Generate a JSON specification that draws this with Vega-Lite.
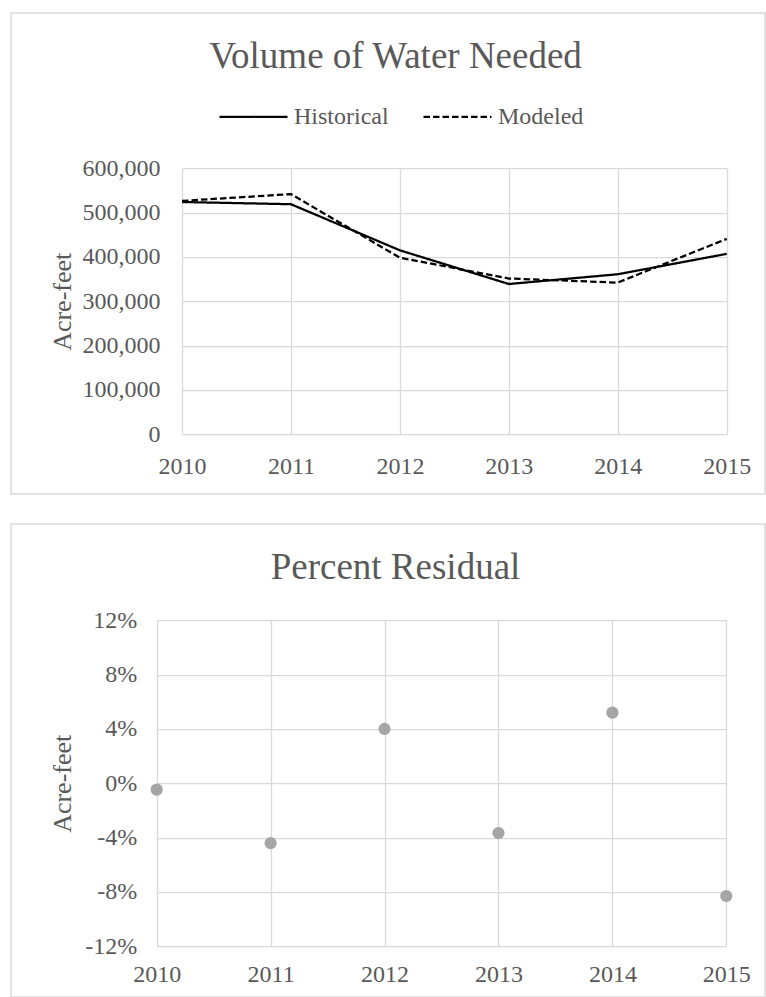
{
  "$schema": "https://vega.github.io/schema/vega-lite/v6.json",
  "background": "white",
  "padding": {"left": 10, "top": 12, "right": 0, "bottom": 0},
  "spacing": 28,
  "config": {
    "font": "Liberation Serif",
    "view": {"stroke": "#D9D9D9", "strokeWidth": 1.5},
    "axis": {
      "labelFont": "Liberation Serif",
      "labelFontSize": 24,
      "labelColor": "#595959",
      "labelFlush": false,
      "labelOverlap": false,
      "titleFont": "Liberation Serif",
      "titleFontSize": 26,
      "titleFontWeight": "normal",
      "titleColor": "#595959",
      "gridColor": "#D9D9D9",
      "gridWidth": 1.25,
      "domain": false,
      "ticks": false,
      "tickSize": 0
    },
    "title": {
      "font": "Liberation Serif",
      "fontSize": 37,
      "fontWeight": "normal",
      "color": "#595959",
      "anchor": "middle",
      "frame": "group",
      "offset": -62.6,
      "dx": 7.5
    }
  },
  "vconcat": [
    {
      "width": 754,
      "height": 481,
      "title": "Volume of Water Needed",
      "data": {
        "values": [
          {"year": 2010, "series": "Historical", "acreFeet": 524000},
          {"year": 2011, "series": "Historical", "acreFeet": 519000},
          {"year": 2012, "series": "Historical", "acreFeet": 415000},
          {"year": 2013, "series": "Historical", "acreFeet": 339000},
          {"year": 2014, "series": "Historical", "acreFeet": 361000},
          {"year": 2015, "series": "Historical", "acreFeet": 407000},
          {"year": 2010, "series": "Modeled", "acreFeet": 526400},
          {"year": 2011, "series": "Modeled", "acreFeet": 541800},
          {"year": 2012, "series": "Modeled", "acreFeet": 398400},
          {"year": 2013, "series": "Modeled", "acreFeet": 351400},
          {"year": 2014, "series": "Modeled", "acreFeet": 342200},
          {"year": 2015, "series": "Modeled", "acreFeet": 440800}
        ]
      },
      "mark": {"type": "line", "color": "black", "strokeWidth": 2.25},
      "encoding": {
        "x": {
          "field": "year",
          "type": "quantitative",
          "scale": {"domain": [2010, 2015], "range": [171, 715.7], "nice": false, "zero": false},
          "axis": {
            "orient": "top",
            "values": [2010, 2011, 2012, 2013, 2014, 2015],
            "format": "d",
            "title": null,
            "offset": -421.3,
            "labelPadding": -20,
            "labelBaseline": "top"
          }
        },
        "y": {
          "field": "acreFeet",
          "type": "quantitative",
          "scale": {"domain": [0, 600000], "range": [421.3, 155.3], "nice": false},
          "axis": {
            "values": [0, 100000, 200000, 300000, 400000, 500000, 600000],
            "format": ",d",
            "title": "Acre-feet",
            "offset": -171,
            "labelPadding": 22,
            "titleAngle": -90,
            "titleBaseline": "alphabetic",
            "titleX": -111.7
          }
        },
        "strokeDash": {
          "field": "series",
          "type": "nominal",
          "scale": {"domain": ["Historical", "Modeled"], "range": [[1, 0], [6.5, 3]]},
          "legend": {
            "orient": "none",
            "legendX": 207,
            "legendY": 68,
            "direction": "horizontal",
            "title": null,
            "padding": 0,
            "symbolType": "stroke",
            "symbolSize": 4624,
            "symbolStrokeWidth": 2.25,
            "symbolStrokeColor": "black",
            "labelFont": "Liberation Serif",
            "labelFontSize": 24,
            "labelColor": "#595959",
            "labelOffset": 5,
            "columnPadding": 30
          }
        }
      }
    },
    {
      "width": 754,
      "height": 473,
      "title": "Percent Residual",
      "data": {
        "values": [
          {"year": 2010, "residual": -0.0046},
          {"year": 2011, "residual": -0.044},
          {"year": 2012, "residual": 0.04},
          {"year": 2013, "residual": -0.0366},
          {"year": 2014, "residual": 0.052},
          {"year": 2015, "residual": -0.083}
        ]
      },
      "mark": {"type": "point", "filled": true, "color": "#A5A5A5", "size": 150, "opacity": 1},
      "encoding": {
        "x": {
          "field": "year",
          "type": "quantitative",
          "scale": {"domain": [2010, 2015], "range": [145.7, 715.3], "nice": false, "zero": false},
          "axis": {
            "orient": "top",
            "values": [2010, 2011, 2012, 2013, 2014, 2015],
            "format": "d",
            "title": null,
            "offset": -422.3,
            "labelPadding": -16,
            "labelBaseline": "top"
          }
        },
        "y": {
          "field": "residual",
          "type": "quantitative",
          "scale": {"domain": [-0.12, 0.12], "range": [422.3, 96.3], "nice": false},
          "axis": {
            "values": [-0.12, -0.08, -0.04, 0, 0.04, 0.08, 0.12],
            "labelExpr": "(datum.value < 0 ? '-' : '') + format(abs(datum.value), '.0%')",
            "title": "Acre-feet",
            "offset": -145.7,
            "labelPadding": 20,
            "titleAngle": -90,
            "titleBaseline": "alphabetic",
            "titleX": -86.7
          }
        }
      }
    }
  ]
}
